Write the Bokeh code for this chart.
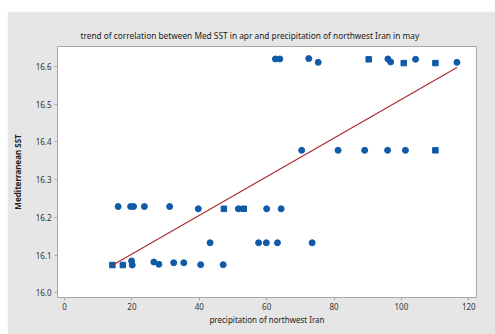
import numpy as np
from bokeh.plotting import figure
from bokeh.models import Range1d, FixedTicker, NumeralTickFormatter, ColumnDataSource
from bokeh.embed import file_html
from bokeh.resources import INLINE

# ---- data ----
precip = [14.2, 17.3, 19.9, 20.1, 26.5, 28.0, 32.4, 35.4, 40.4, 47.1,
          43.2, 57.6, 59.9, 63.2, 73.5,
          15.9, 19.6, 20.5, 23.7, 31.2, 39.7, 47.3, 51.6, 53.2, 60.0, 64.3,
          70.4, 81.2, 89.1, 95.9, 101.2, 110.1,
          62.6, 63.9, 72.5, 75.3, 90.3, 96.0, 96.8, 100.7, 104.2, 110.1, 116.5]
sst = [16.074, 16.074, 16.085, 16.074, 16.082, 16.076, 16.080, 16.080, 16.075, 16.075,
       16.133, 16.133, 16.133, 16.133, 16.133,
       16.229, 16.229, 16.229, 16.229, 16.229, 16.223, 16.223, 16.223, 16.223, 16.223, 16.223,
       16.378, 16.378, 16.378, 16.378, 16.378, 16.378,
       16.620, 16.620, 16.621, 16.611, 16.619, 16.620, 16.612, 16.609, 16.619, 16.609, 16.611]
marker = ["square", "square", "circle", "circle", "circle", "circle", "circle", "circle", "circle", "circle",
          "circle", "circle", "circle", "circle", "circle",
          "circle", "circle", "circle", "circle", "circle", "circle", "square", "circle", "square", "circle", "circle",
          "circle", "circle", "circle", "circle", "circle", "square",
          "circle", "circle", "circle", "circle", "square", "circle", "circle", "square", "circle", "square", "circle"]

fit_intercept = 16.001
fit_slope = 0.00512

x_ticks = [0, 20, 40, 60, 80, 100, 120]
y_ticks = [16.0, 16.1, 16.2, 16.3, 16.4, 16.5, 16.6]

title_text = "trend of correlation between Med SST in apr and precipitation of northwest Iran in may"
x_label = "precipitation of northwest Iran"
y_label = "Mediterranean SST"

FONT = "Noto Sans"
BLUE = "#0F5BA8"
PANEL = "#E6E6E6"

p = figure(width=488, height=323, output_backend="svg", toolbar_location=None,
           x_range=Range1d(-2.1, 122.3), y_range=Range1d(15.988, 16.653),
           min_border_left=50, min_border_right=19, min_border_top=35, min_border_bottom=37,
           title=title_text)
p.margin = (11, 0, 0, 7)
p.border_fill_color = PANEL
p.background_fill_color = "white"
p.outline_line_color = "#A8A8A8"
p.outline_line_width = 1
p.xgrid.visible = False
p.ygrid.visible = False

p.title.text_font = FONT
p.title.text_font_size = "8.3px"
p.title.text_font_style = "normal"
p.title.text_color = "#222222"
p.title.text_line_height = 1.0
p.title.align = "left"
p.title.offset = 23
p.title.standoff = 11

src_c = ColumnDataSource(dict(x=[a for a, m in zip(precip, marker) if m == "circle"],
                              y=[b for b, m in zip(sst, marker) if m == "circle"]))
src_s = ColumnDataSource(dict(x=[a for a, m in zip(precip, marker) if m == "square"],
                              y=[b for b, m in zip(sst, marker) if m == "square"]))
p.scatter("x", "y", source=src_c, marker="circle", size=6, fill_color=BLUE, line_color=BLUE)
p.scatter("x", "y", source=src_s, marker="square", size=5.5, fill_color=BLUE, line_color=BLUE)

xf = np.array([min(precip), max(precip)])
p.line(xf, fit_intercept + fit_slope * xf, line_color="#A8282C", line_width=1.1)

for ax in (p.xaxis[0], p.yaxis[0]):
    ax.axis_line_color = "#A8A8A8"
    ax.major_tick_line_color = "#A8A8A8"
    ax.minor_tick_line_color = None
    ax.major_tick_in = 0
    ax.major_tick_out = 3
    ax.major_label_text_font = FONT
    ax.major_label_text_font_size = "8px"
    ax.major_label_text_color = "#333333"
    ax.axis_label_text_font = FONT
    ax.axis_label_text_font_size = "8px"
    ax.axis_label_text_font_style = "normal"
    ax.axis_label_text_color = "#222222"

p.xaxis.ticker = FixedTicker(ticks=x_ticks)
p.yaxis.ticker = FixedTicker(ticks=y_ticks)
p.yaxis.formatter = NumeralTickFormatter(format="0.0")
p.xaxis.axis_label = x_label
p.yaxis.axis_label = y_label
p.xaxis.major_label_standoff = 2
p.yaxis.major_label_standoff = 3
p.xaxis.axis_label_standoff = 1
p.yaxis.axis_label_standoff = 10
p.yaxis.axis_label_text_font_style = "bold"

open("out.html", "w").write(file_html(p, INLINE))
